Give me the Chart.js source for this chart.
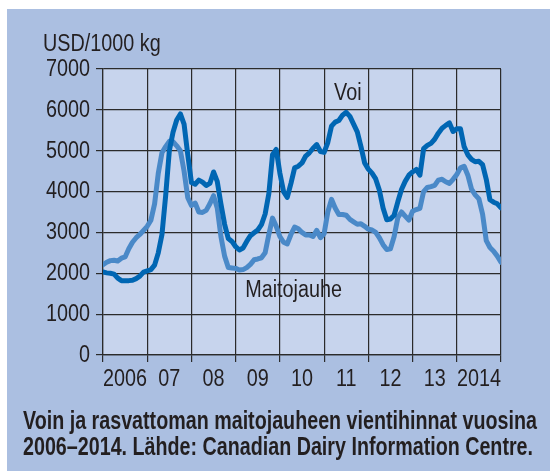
<!DOCTYPE html>
<html>
<head>
<meta charset="utf-8">
<script src="https://cdn.jsdelivr.net/npm/chart.js@4.4.1/dist/chart.umd.min.js"></script>
<style>
  html, body { margin: 0; padding: 0; background: #fff; }
  #wrap { width: 550px; height: 471px; position: relative; }
</style>
</head>
<body>
<div id="wrap"><canvas id="milk"></canvas></div>
<script>
// monthly export prices, Jan 2006 .. Jan 2015 (USD/1000 kg)
var yearLabels = ['2006', '07', '08', '09', '10', '11', '12', '13', '2014'];
var yTicks = [0, 1000, 2000, 3000, 4000, 5000, 6000, 7000];

var voi = [
    2030, 2010, 2000, 1980, 1880, 1820, 1820, 1820, 1830, 1870, 1930, 2030,
    2060, 2090, 2200, 2500, 2950, 3900, 5000, 5450, 5750, 5900, 5650, 4900,
    4220, 4180, 4280, 4230, 4150, 4200, 4480, 4250, 3700, 3200, 2850, 2780,
    2650, 2570, 2620, 2780, 2920, 2990, 3060, 3190, 3450, 3950, 4900, 5030,
    4450, 4000, 3860, 4200, 4580, 4620, 4700, 4870, 4950, 5060, 5150, 4980,
    4960, 5200, 5600, 5700, 5740, 5870, 5940, 5840, 5650, 5460, 5100, 4700,
    4550, 4450, 4310, 4030, 3600, 3310, 3330, 3420, 3750, 4050, 4250, 4400,
    4480, 4540, 4400, 5050, 5130, 5180, 5280, 5430, 5550, 5620, 5680, 5470,
    5540, 5540, 5100, 4900, 4790, 4730, 4740, 4660, 4300, 3800, 3740, 3700, 3600
];

var maitojauhe = [
    2210, 2270, 2310, 2320, 2300, 2370, 2400, 2600, 2760, 2870, 2950, 3050,
    3150, 3300, 3700, 4450, 4950, 5100, 5230, 5220, 5120, 5000, 4500, 3850,
    3660, 3720, 3500, 3490, 3540, 3700, 3900, 3600, 2900, 2420, 2140, 2130,
    2120, 2080, 2090, 2140, 2220, 2330, 2350, 2380, 2500, 2950, 3350, 3150,
    2900, 2760, 2720, 2950, 3130, 3090, 3000, 2940, 2940, 2900, 3050, 2870,
    2970, 3500, 3810, 3600, 3440, 3440, 3420, 3320, 3260, 3200, 3210, 3150,
    3080, 3060, 3000, 2870, 2700, 2580, 2600, 2900, 3360, 3500, 3400, 3300,
    3520, 3560, 3590, 4000, 4100, 4120, 4150, 4280, 4300, 4240, 4200, 4300,
    4420, 4580, 4620, 4400, 4060, 3920, 3820, 3450, 2800, 2630, 2540, 2420, 2270
];

var titleLines = [
    'Voin ja rasvattoman maitojauheen vientihinnat vuosina',
    '2006\u20132014. L\u00e4hde: Canadian Dairy Information Centre.'
];

const PANEL = '#abbfe1';
const PLOT = '#c7d4ed';
const GRID = '#2b2b2b';
const TEXT = '#231f20';
const FONT = "'Liberation Sans', Arial, sans-serif";
const NARROW = 0.86;  // squeeze Liberation Sans to look like a condensed face

function toPoints(arr) {
    return arr.map(function (v, i) { return { x: i, y: v }; });
}

// draw text squeezed horizontally
function squeezed(ctx, text, x, y, align, sx) {
    ctx.save();
    ctx.translate(x, y);
    ctx.scale(sx, 1);
    ctx.textAlign = align;
    ctx.fillText(text, 0, 0);
    ctx.restore();
}

// panel + plot background
const bgPlugin = {
    id: 'bg',
    beforeDraw(chart) {
        const ctx = chart.ctx;
        const a = chart.chartArea;
        ctx.save();
        ctx.fillStyle = '#ffffff';
        ctx.fillRect(0, 0, chart.width, chart.height);
        ctx.fillStyle = PANEL;
        ctx.fillRect(7, 9, chart.width - 7, chart.height - 9);
        ctx.fillStyle = PLOT;
        ctx.fillRect(a.left, a.top, a.right - a.left, a.bottom - a.top);
        ctx.restore();
    }
};

// tick labels, unit label, series labels and caption
const textPlugin = {
    id: 'texts',
    afterDraw(chart) {
        const ctx = chart.ctx;
        const xs = chart.scales.x;
        const ys = chart.scales.y;
        const a = chart.chartArea;
        ctx.save();
        ctx.fillStyle = TEXT;
        ctx.textBaseline = 'alphabetic';
        ctx.font = '23px ' + FONT;

        yTicks.forEach(function (v) {
            squeezed(ctx, String(v), a.left - 13, ys.getPixelForValue(v) + 6.8, 'right', NARROW);
        });
        yearLabels.forEach(function (l, i) {
            squeezed(ctx, l, xs.getPixelForValue(i * 12 + 6), 385.5, 'center', NARROW);
        });

        squeezed(ctx, 'USD/1000 kg', 43, 51, 'left', NARROW);
        squeezed(ctx, 'Voi', xs.getPixelForValue(62.7), ys.getPixelForValue(6250), 'left', NARROW);
        squeezed(ctx, 'Maitojauhe', xs.getPixelForValue(38.6), ys.getPixelForValue(1420), 'left', NARROW);

        ctx.font = 'bold 25px ' + FONT;
        const sx = 514 / ctx.measureText(titleLines[0]).width;
        titleLines.forEach(function (line, i) {
            squeezed(ctx, line, 23, 428.5 + i * 26.5, 'left', sx);
        });
        ctx.restore();
    }
};

const config = {
    type: 'line',
    data: {
        datasets: [{
            label: 'Voi',
            data: toPoints(voi),
            borderColor: '#0066b3',
            borderWidth: 5,
            pointRadius: 0,
            tension: 0,
            borderJoinStyle: 'round',
            borderCapStyle: 'round'
        },
        {
            label: 'Maitojauhe',
            data: toPoints(maitojauhe),
            borderColor: '#4a89c8',
            borderWidth: 5,
            pointRadius: 0,
            tension: 0,
            borderJoinStyle: 'round',
            borderCapStyle: 'round'
        }]
    },
    options: {
        responsive: true,
        maintainAspectRatio: false,
        devicePixelRatio: 1,
        animation: false,
        layout: {
            padding: { left: 0, top: 69, right: 49, bottom: 71 }
        },
        plugins: {
            legend: { display: false },
            tooltip: { enabled: false }
        },
        scales: {
            x: {
                type: 'linear',
                min: 0,
                max: yearLabels.length * 12,
                afterBuildTicks(scale) {
                    const t = [];
                    yearLabels.forEach(function (l, i) {
                        t.push({ value: i * 12 });
                    });
                    t.push({ value: yearLabels.length * 12 });
                    scale.ticks = t;
                },
                afterFit(scale) { scale.height = 45; },
                ticks: { display: false },
                grid: {
                    color: GRID,
                    lineWidth: 1.2,
                    tickLength: 7
                },
                border: { display: true, color: GRID, width: 1.2 }
            },
            y: {
                min: yTicks[0],
                max: yTicks[yTicks.length - 1],
                afterBuildTicks(scale) {
                    scale.ticks = yTicks.map(function (v) { return { value: v }; });
                },
                afterFit(scale) { scale.width = 103; },
                ticks: { display: false },
                grid: {
                    color: GRID,
                    lineWidth: 1.2,
                    tickLength: 7
                },
                border: { display: true, color: GRID, width: 1.2 }
            }
        }
    },
    plugins: [bgPlugin, textPlugin]
};

const milkChart = new Chart(document.getElementById('milk').getContext('2d'), config);
</script>
</body>
</html>
